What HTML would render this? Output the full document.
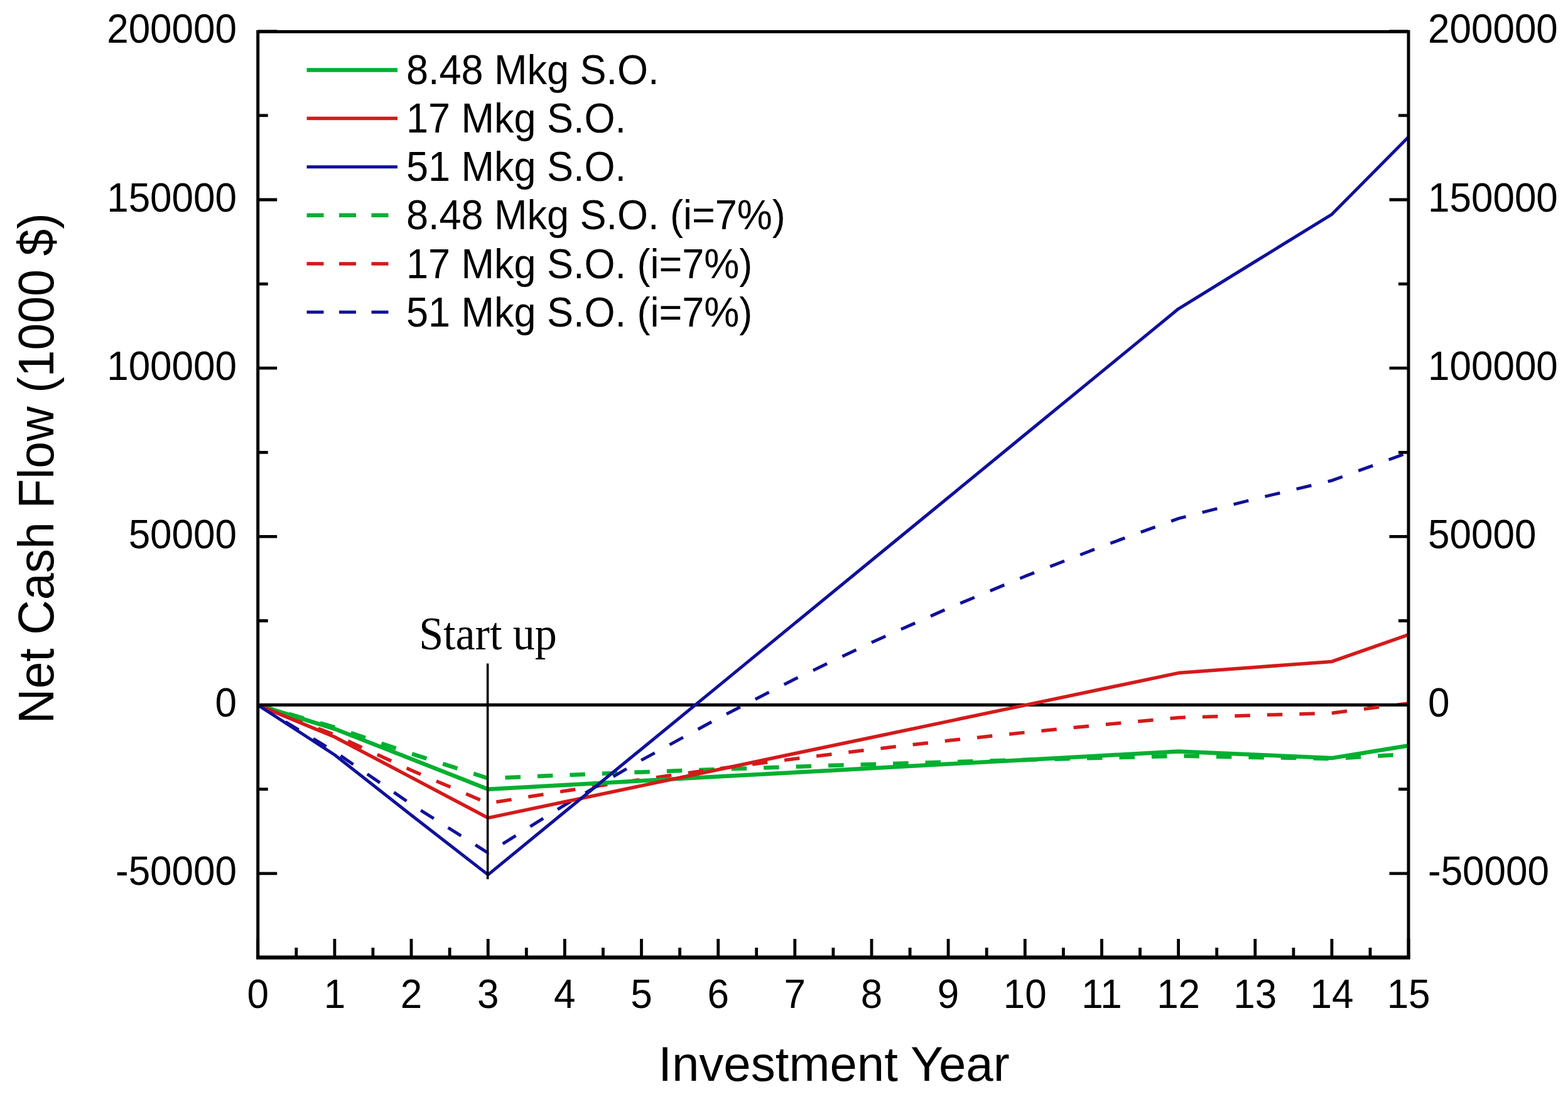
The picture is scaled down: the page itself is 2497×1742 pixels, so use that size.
<!DOCTYPE html>
<html><head><meta charset="utf-8"><title>Net Cash Flow</title>
<style>html,body{margin:0;padding:0;background:#fff;}svg{display:block;}</style></head>
<body><svg width="2497" height="1742" viewBox="0 0 2497 1742">
<rect width="2497" height="1742" fill="#fff"/>
<line x1="410.7" y1="1122.6" x2="2243.0" y2="1122.6" stroke="#000" stroke-width="5"/>
<g fill="none" stroke-linejoin="round">
<polyline points="410.7,1122.6 532.9,1158.1 655.0,1200.1 777.2,1239.3 899.3,1234.2 1021.5,1229.4 1143.7,1225.0 1265.8,1220.8 1388.0,1216.9 1510.1,1213.3 1632.3,1209.9 1754.5,1206.7 1876.6,1203.7 1998.8,1205.9 2120.9,1208.0 2243.1,1200.8" stroke="#00B030" stroke-width="6.5" stroke-dasharray="24.5 27"/>
<polyline points="410.7,1122.6 532.9,1170.2 655.0,1226.5 777.2,1279.1 899.3,1259.5 1021.5,1241.2 1143.7,1224.1 1265.8,1208.2 1388.0,1193.3 1510.1,1179.3 1632.3,1166.3 1754.5,1154.1 1876.6,1142.7 1998.8,1138.9 2120.9,1135.4 2243.1,1119.9" stroke="#D41A1A" stroke-width="5.5" stroke-dasharray="24.5 27"/>
<polyline points="410.7,1122.6 532.9,1196.8 655.0,1280.7 777.2,1358.2 899.3,1281.8 1021.5,1210.4 1143.7,1143.7 1265.8,1081.3 1388.0,1023.0 1510.1,968.6 1632.3,917.7 1754.5,870.1 1876.6,825.6 1998.8,794.4 2120.9,765.2 2243.1,720.5" stroke="#10109A" stroke-width="5" stroke-dasharray="24.5 27"/>
<polyline points="410.7,1122.6 532.9,1160.6 655.0,1208.6 777.2,1256.7 899.3,1250.0 1021.5,1243.3 1143.7,1236.6 1265.8,1229.9 1388.0,1223.3 1510.1,1216.6 1632.3,1209.9 1754.5,1203.2 1876.6,1196.5 1998.8,1201.8 2120.9,1207.1 2243.1,1187.3" stroke="#00B030" stroke-width="6.5"/>
<polyline points="410.7,1122.6 532.9,1173.5 655.0,1237.9 777.2,1302.4 899.3,1276.8 1021.5,1251.1 1143.7,1225.5 1265.8,1199.8 1388.0,1174.2 1510.1,1148.6 1632.3,1122.9 1754.5,1097.3 1876.6,1071.6 1998.8,1062.5 2120.9,1053.4 2243.1,1010.6" stroke="#D41A1A" stroke-width="5.5"/>
<polyline points="410.7,1122.6 532.9,1202.0 655.0,1298.0 777.2,1392.9 899.3,1292.8 1021.5,1192.7 1143.7,1092.6 1265.8,992.4 1388.0,892.3 1510.1,792.2 1632.3,692.0 1754.5,591.9 1876.6,491.8 1998.8,416.5 2120.9,341.3 2243.1,218.0" stroke="#10109A" stroke-width="5"/>
</g>
<line x1="776.6" y1="1056.5" x2="776.6" y2="1400" stroke="#000" stroke-width="3.6"/>
<path d="M410.7,1390.8h30.5M2243.0,1390.8h-30.5M410.7,1122.6h30.5M2243.0,1122.6h-30.5M410.7,854.4h30.5M2243.0,854.4h-30.5M410.7,586.2h30.5M2243.0,586.2h-30.5M410.7,318.0h30.5M2243.0,318.0h-30.5M410.7,49.8h30.5M2243.0,49.8h-30.5M410.7,1256.7h16M2243.0,1256.7h-16M410.7,988.5h16M2243.0,988.5h-16M410.7,720.3h16M2243.0,720.3h-16M410.7,452.1h16M2243.0,452.1h-16M410.7,183.9h16M2243.0,183.9h-16M410.7,1525.0v-30M532.9,1525.0v-30M655.0,1525.0v-30M777.2,1525.0v-30M899.3,1525.0v-30M1021.5,1525.0v-30M1143.7,1525.0v-30M1265.8,1525.0v-30M1388.0,1525.0v-30M1510.1,1525.0v-30M1632.3,1525.0v-30M1754.5,1525.0v-30M1876.6,1525.0v-30M1998.8,1525.0v-30M2120.9,1525.0v-30M2243.1,1525.0v-30M471.8,1525.0v-16M593.9,1525.0v-16M716.1,1525.0v-16M838.3,1525.0v-16M960.4,1525.0v-16M1082.6,1525.0v-16M1204.7,1525.0v-16M1326.9,1525.0v-16M1449.1,1525.0v-16M1571.2,1525.0v-16M1693.4,1525.0v-16M1815.5,1525.0v-16M1937.7,1525.0v-16M2059.9,1525.0v-16M2182.0,1525.0v-16" stroke="#000" stroke-width="4.8" fill="none"/>
<path d="M410.7,50.4H2243.0V1525.0H410.7Z" stroke="#000" stroke-width="5" fill="none"/>
<line x1="408.2" y1="1524.5" x2="2245.5" y2="1524.5" stroke="#000" stroke-width="6"/>
<g font-family="'Liberation Sans', Arial, sans-serif" font-size="62" fill="#000">
<text transform="translate(377,1409.4) scale(1,1.05)" text-anchor="end">-50000</text>
<text transform="translate(2274,1409.4) scale(1,1.05)">-50000</text>
<text transform="translate(377,1141.2) scale(1,1.05)" text-anchor="end">0</text>
<text transform="translate(2274,1141.2) scale(1,1.05)">0</text>
<text transform="translate(377,873.0) scale(1,1.05)" text-anchor="end">50000</text>
<text transform="translate(2274,873.0) scale(1,1.05)">50000</text>
<text transform="translate(377,604.8) scale(1,1.05)" text-anchor="end">100000</text>
<text transform="translate(2274,604.8) scale(1,1.05)">100000</text>
<text transform="translate(377,336.6) scale(1,1.05)" text-anchor="end">150000</text>
<text transform="translate(2274,336.6) scale(1,1.05)">150000</text>
<text transform="translate(377,68.4) scale(1,1.05)" text-anchor="end">200000</text>
<text transform="translate(2274,68.4) scale(1,1.05)">200000</text>
<text transform="translate(410.7,1605.3) scale(1,1.05)" text-anchor="middle">0</text>
<text transform="translate(532.9,1605.3) scale(1,1.05)" text-anchor="middle">1</text>
<text transform="translate(655.0,1605.3) scale(1,1.05)" text-anchor="middle">2</text>
<text transform="translate(777.2,1605.3) scale(1,1.05)" text-anchor="middle">3</text>
<text transform="translate(899.3,1605.3) scale(1,1.05)" text-anchor="middle">4</text>
<text transform="translate(1021.5,1605.3) scale(1,1.05)" text-anchor="middle">5</text>
<text transform="translate(1143.7,1605.3) scale(1,1.05)" text-anchor="middle">6</text>
<text transform="translate(1265.8,1605.3) scale(1,1.05)" text-anchor="middle">7</text>
<text transform="translate(1388.0,1605.3) scale(1,1.05)" text-anchor="middle">8</text>
<text transform="translate(1510.1,1605.3) scale(1,1.05)" text-anchor="middle">9</text>
<text transform="translate(1632.3,1605.3) scale(1,1.05)" text-anchor="middle">10</text>
<text transform="translate(1754.5,1605.3) scale(1,1.05)" text-anchor="middle">11</text>
<text transform="translate(1876.6,1605.3) scale(1,1.05)" text-anchor="middle">12</text>
<text transform="translate(1998.8,1605.3) scale(1,1.05)" text-anchor="middle">13</text>
<text transform="translate(2120.9,1605.3) scale(1,1.05)" text-anchor="middle">14</text>
<text transform="translate(2243.1,1605.3) scale(1,1.05)" text-anchor="middle">15</text>
</g>
<text font-family="'Liberation Sans', Arial, sans-serif" font-size="78" transform="translate(1328,1721.3) scale(1,1.0)" text-anchor="middle">Investment Year</text>
<text font-family="'Liberation Sans', Arial, sans-serif" font-size="77" transform="translate(85.2,745.6) rotate(-90) scale(1,1.03)" text-anchor="middle">Net Cash Flow (1000 $)</text>
<text font-family="'Liberation Serif', 'Times New Roman', serif" font-size="70" transform="translate(777,1033.6) scale(1,1.05)" text-anchor="middle">Start up</text>
<line x1="488.5" y1="111.5" x2="633" y2="111.5" stroke="#00B030" stroke-width="6.5"/>
<text font-family="'Liberation Sans', Arial, sans-serif" font-size="63" transform="translate(647,134.1) scale(1,1.05)">8.48 Mkg S.O.</text>
<line x1="488.5" y1="188.6" x2="633" y2="188.6" stroke="#D41A1A" stroke-width="5.5"/>
<text font-family="'Liberation Sans', Arial, sans-serif" font-size="63" transform="translate(647,211.2) scale(1,1.05)">17 Mkg S.O.</text>
<line x1="488.5" y1="265.7" x2="633" y2="265.7" stroke="#10109A" stroke-width="5"/>
<text font-family="'Liberation Sans', Arial, sans-serif" font-size="63" transform="translate(647,288.3) scale(1,1.05)">51 Mkg S.O.</text>
<line x1="488.5" y1="342.8" x2="633" y2="342.8" stroke="#00B030" stroke-width="6.5" stroke-dasharray="27 24.5"/>
<text font-family="'Liberation Sans', Arial, sans-serif" font-size="63" transform="translate(647,365.4) scale(1,1.05)">8.48 Mkg S.O. (i=7%)</text>
<line x1="488.5" y1="419.9" x2="633" y2="419.9" stroke="#D41A1A" stroke-width="5.5" stroke-dasharray="27 24.5"/>
<text font-family="'Liberation Sans', Arial, sans-serif" font-size="63" transform="translate(647,442.5) scale(1,1.05)">17 Mkg S.O. (i=7%)</text>
<line x1="488.5" y1="497.0" x2="633" y2="497.0" stroke="#10109A" stroke-width="5" stroke-dasharray="27 24.5"/>
<text font-family="'Liberation Sans', Arial, sans-serif" font-size="63" transform="translate(647,519.6) scale(1,1.05)">51 Mkg S.O. (i=7%)</text>
</svg></body></html>
